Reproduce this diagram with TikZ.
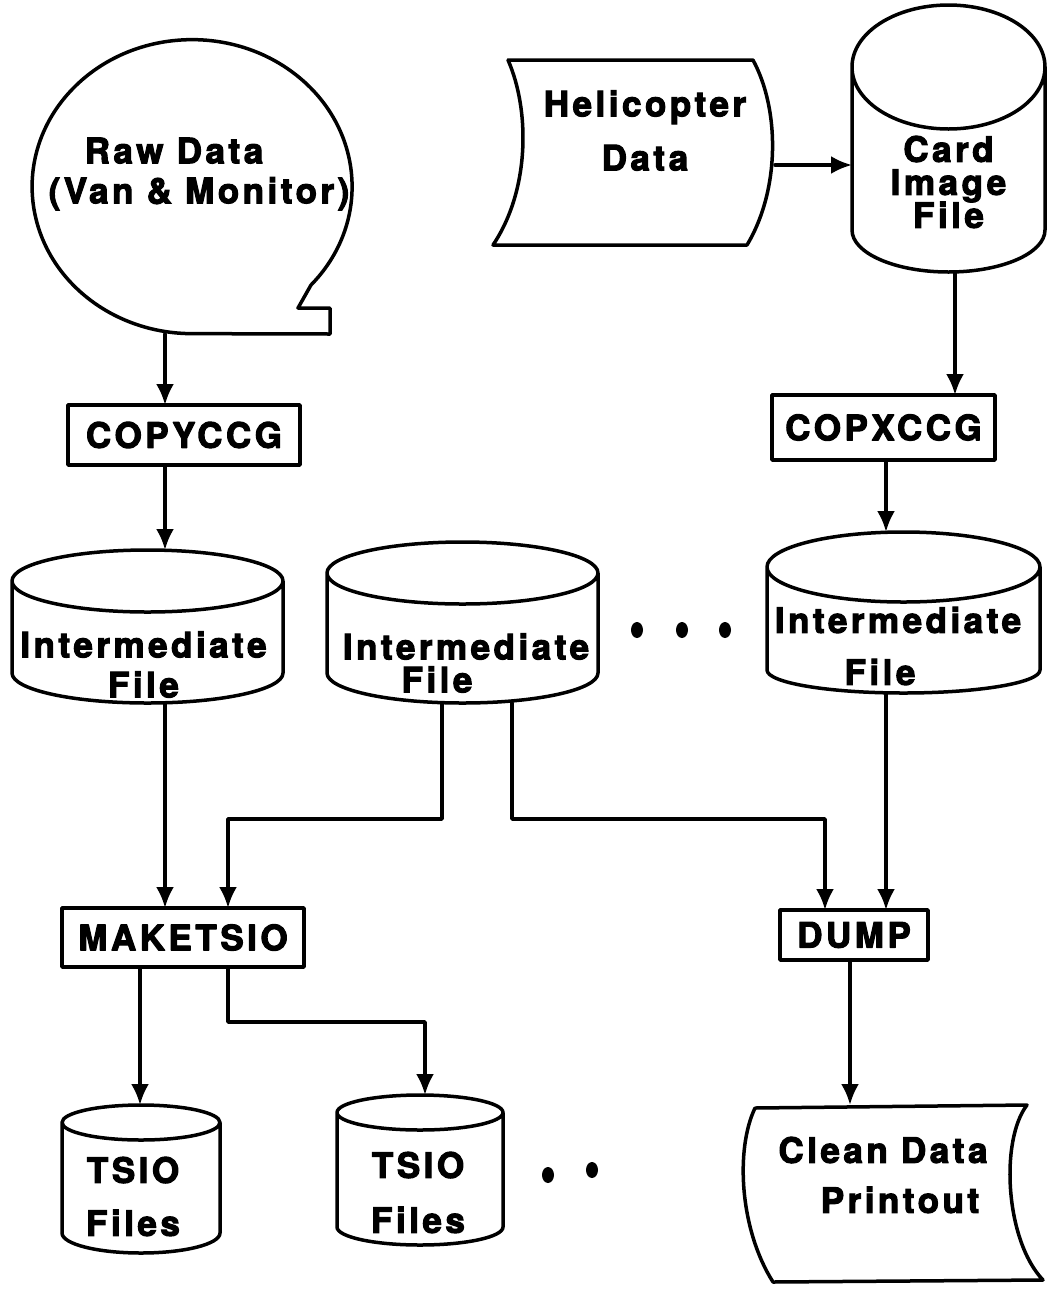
\documentclass[tikz,border=0pt]{standalone}
\usepackage{fontspec}
\usetikzlibrary{shapes.geometric,arrows.meta}
\newfontfamily\lbl{TeX Gyre Heros}[UprightFont={* Bold}, LetterSpace=10, FakeBold=3]
\colorlet{ink}{black}
\tikzset{outline/.style={draw=ink, line width=3.5pt, line join=round, line cap=round},
    flow/.style={outline, -{Latex[length=21pt,width=18pt]}},
    tag/.style={font={\lbl\fontsize{35pt}{40pt}\selectfont}, align=center, inner sep=0pt},
    prog/.style={tag, outline, rectangle, outer sep=0pt},
    shell/.style={rectangle, inner sep=0pt, outer sep=0pt}}
% disk drawn round a shell node: name, half width, top and bottom radius
\newcommand\drawdisk[4]{%
  \draw[outline] ([yshift=-#3pt]#1.north) ellipse[x radius=#2pt, y radius=#3pt]
    ([yshift=-#3pt]#1.north west) -- ([yshift=#4pt]#1.south west)
    arc[start angle=180, end angle=360, x radius=#2pt, y radius=#4pt]
    -- ([yshift=-#3pt]#1.north east);}

\begin{document}
\begin{tikzpicture}[x=1pt, y=-1pt]
    \useasboundingbox (0,0) rectangle (1051,1294);
    % columns and rows of the connectors
    \coordinate (colA) at (165,0);
    \coordinate (colB) at (228,0);
    \coordinate (colC) at (140,0);
    \coordinate (colL) at (442,0);
    \coordinate (colR) at (512,0);
    \coordinate (colF) at (825,0);
    \coordinate (colD) at (886,0);
    \coordinate (colE) at (955,0);
    \coordinate (colG) at (425,0);
    \coordinate (colH) at (850,0);
    \coordinate (rowH) at (0,165);
    \coordinate (rowM) at (0,819);
    \coordinate (rowT) at (0,1022);

    % inputs
    \node[shell, shape=ellipse, minimum width=320pt, minimum height=294pt,
        label={[tag, xshift=7pt, yshift=13pt]center:Raw Data\hspace*{50pt}\\(Van \& Monitor)}] (rawdata) at (192,187) {};
    \draw[outline] (311,285) arc[start angle=-42, end angle=270, x radius=160pt, y radius=147pt]
        -- (330,334) -- (330,308) -- (298,308) -- cycle;
    \node[shell, minimum width=282pt, minimum height=185pt,
        label={[tag, xshift=11pt, yshift=22pt]center:Helicopter\\[14pt]Data}] (heli) at (634,152.5) {};
    \draw[outline] (508,60) -- (753,60) .. controls (780,110) and (780,190) .. (747,245)
        -- (493,245) .. controls (530,190) and (530,110) .. (508,60);
    \node[shell, minimum width=193pt, minimum height=267pt,
        label={[tag, yshift=-43.5pt]center:Card\\[-7pt]Image\\[-7pt]File}] (card) at (948.5,138.5) {};
    \drawdisk{card}{96.5}{62}{42}

    % programs
    \node[prog, minimum width=232pt, minimum height=60pt] (copyccg) at (184,435) {COPYCCG};
    \node[prog, minimum width=223pt, minimum height=65pt] (copxccg) at (883.5,427.5) {COPXCCG};
    \node[prog, minimum width=242pt, minimum height=59pt] (maketsio) at (183,937.5) {MAKETSIO};
    \node[prog, minimum width=148pt, minimum height=50pt] (dump) at (854,935) {DUMP};

    % files
    \node[shell, minimum width=271pt, minimum height=153pt,
        label={[tag, xshift=-4pt, yshift=-38pt]center:Intermediate\\File}] (int1) at (147.5,626.5) {};
    \drawdisk{int1}{135.5}{31}{30}
    \node[shell, minimum width=271pt, minimum height=161pt,
        label={[tag, xshift=3.5pt, yshift=-40.5pt]center:Intermediate\\[-7pt]File\hspace*{58pt}}] (int2) at (462.5,622.5) {};
    \drawdisk{int2}{135.5}{31}{30}
    \node[shell, minimum width=273pt, minimum height=161pt,
        label={[tag, xshift=-5.5pt, yshift=-33.5pt]center:Intermediate\\[12pt]File\hspace*{36pt}}] (int3) at (903.5,612.5) {};
    \drawdisk{int3}{136.5}{35}{23}
    \node[shell, minimum width=158pt, minimum height=148pt,
        label={[tag, xshift=-8pt, yshift=-17.5pt]center:TSIO\\[13pt]Files}] (tsio1) at (141,1179) {};
    \drawdisk{tsio1}{79}{17.5}{20}
    \node[shell, minimum width=166pt, minimum height=150pt,
        label={[tag, xshift=-2pt, yshift=-22.5pt]center:TSIO\\[15pt]Files}] (tsio2) at (420,1170) {};
    \drawdisk{tsio2}{83}{17.5}{18}
    \node[shell, minimum width=300pt, minimum height=177pt,
        label={[tag, xshift=-10pt, yshift=18.5pt]center:Clean Data\\[10pt]\hspace*{34pt}Printout}] (printout) at (893,1193.5) {};
    \draw[outline] (755,1108) -- (1027,1105) .. controls (1000,1140) and (1005,1240) .. (1043,1280)
        -- (773,1282) .. controls (740,1230) and (735,1150) .. (755,1108);

    % more of the same
    \foreach \x in {637,682,725}
        \fill[ink] (\x,630) ellipse[x radius=6pt, y radius=8pt];
    \fill[ink] (548,1175) ellipse[x radius=6pt, y radius=8pt];
    \fill[ink] (592,1170) ellipse[x radius=6pt, y radius=8pt];

    % flow
    \draw[flow] (rawdata.south -| colA) -- (copyccg.north -| colA);
    \draw[flow] (copyccg.south -| colA) -- (int1.north -| colA);
    \draw[flow] (heli.east |- rowH) -- (card.west |- rowH);
    \draw[flow] (card.south -| colE) -- (copxccg.north -| colE);
    \draw[flow] (copxccg.south -| colD) -- (int3.north -| colD);
    \draw[flow] (int1.south -| colA) -- (maketsio.north -| colA);
    \draw[flow] (int2.south -| colL) |- (colB |- rowM) -- (maketsio.north -| colB);
    \draw[flow] (int2.south -| colR) |- (colF |- rowM) -- (dump.north -| colF);
    \draw[flow] (int3.south -| colD) -- (dump.north -| colD);
    \draw[flow] (maketsio.south -| colC) -- (tsio1.north -| colC);
    \draw[flow] (maketsio.south -| colB) |- (colG |- rowT) -- (tsio2.north -| colG);
    \draw[flow] (dump.south -| colH) -- (printout.north -| colH);
\end{tikzpicture}
\end{document}
